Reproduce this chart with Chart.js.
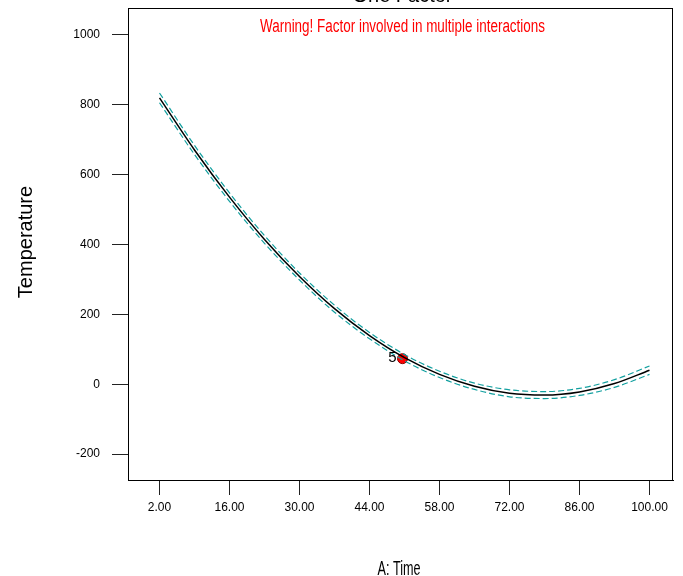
<!DOCTYPE html>
<html>
<head>
<meta charset="utf-8">
<script src="https://cdn.jsdelivr.net/npm/chart.js@4/dist/chart.umd.min.js"></script>
<style>
  html, body { margin: 0; padding: 0; background: #fff; }
  #wrap { width: 683px; height: 576px; }
</style>
</head>
<body>
<div id="wrap"><canvas id="c" width="683" height="576"></canvas></div>
<script>
// Factor A (Time) sample positions along the response curve
const timeValues = [2, 9, 16, 23, 30, 37, 44, 51, 58, 65, 72, 79, 86, 93, 100];
// Predicted Temperature
const predicted = [819, 670, 535, 414, 308, 216, 139, 76, 28, -6, -26, -31, -22, 2, 40];
// Confidence band limits
const upperCI = [833, 683, 547, 425, 318, 226, 148, 85, 37, 3, -16, -21, -12, 13, 52];
const lowerCI = [805, 657, 523, 403, 298, 206, 130, 67, 19, -15, -36, -41, -32, -9, 28];
// Design point (run label 5)
const designTime = [50.6];
const designTemp = [73];
const designLabels = ['5'];
// Axis ticks
const xTicks = [2, 16, 30, 44, 58, 72, 86, 100];
const yTicks = [-200, 0, 200, 400, 600, 800, 1000];

const FONT = "'Liberation Sans', Arial, sans-serif";

const toXY = (xs, ys) => xs.map((x, i) => ({ x: x, y: ys[i] }));

const decorations = {
  id: 'decorations',
  afterDraw(chart) {
    const ctx = chart.ctx;
    const a = chart.chartArea;
    ctx.save();
    // plot frame
    ctx.strokeStyle = '#000';
    ctx.lineWidth = 1;
    ctx.strokeRect(a.left + 0.5, a.top + 0.5, a.right - a.left - 1, a.bottom - a.top);

    const cx = (a.left + a.right) / 2;

    // chart title (partly above the canvas edge)
    ctx.fillStyle = '#000';
    ctx.font = '20px ' + FONT;
    ctx.textAlign = 'center';
    ctx.textBaseline = 'alphabetic';
    ctx.fillText('One Factor', cx + 2, 2);

    // warning line, horizontally condensed
    const warn = 'Warning! Factor involved in multiple interactions';
    ctx.font = '18px ' + FONT;
    ctx.fillStyle = '#ff0000';
    let w = ctx.measureText(warn).width;
    ctx.save();
    ctx.translate(cx + 2, 32);
    ctx.scale(285 / w, 1);
    ctx.fillText(warn, 0, 0);
    ctx.restore();

    // y axis title
    ctx.fillStyle = '#000';
    ctx.font = '20px ' + FONT;
    ctx.save();
    ctx.translate(32, 242);
    ctx.rotate(-Math.PI / 2);
    ctx.fillText('Temperature', 0, 0);
    ctx.restore();

    // x axis title, condensed
    const xt = 'A: Time';
    ctx.font = '20px ' + FONT;
    w = ctx.measureText(xt).width;
    ctx.save();
    ctx.translate(399, 575);
    ctx.scale(43 / w, 1);
    ctx.fillText(xt, 0, 0);
    ctx.restore();

    // design point labels
    const meta = chart.getDatasetMeta(3);
    ctx.font = '15px ' + FONT;
    ctx.textAlign = 'right';
    ctx.textBaseline = 'middle';
    meta.data.forEach((pt, i) => {
      ctx.fillText(designLabels[i], pt.x - 6, pt.y - 1);
    });
    ctx.restore();
  }
};

// keep tick labels from reserving extra space around the plot area
function noLabelPadding(scale) {
  scale.paddingTop = 0;
  scale.paddingBottom = 0;
  scale.paddingLeft = 0;
  scale.paddingRight = 0;
}

new Chart(document.getElementById('c'), {
  type: 'line',
  data: {
    datasets: [
      {
        label: 'Upper',
        data: toXY(timeValues, upperCI),
        borderColor: '#13a0a0',
        borderWidth: 1.2,
        borderDash: [6, 3],
        pointRadius: 0,
        cubicInterpolationMode: 'monotone',
        fill: false
      },
      {
        label: 'Lower',
        data: toXY(timeValues, lowerCI),
        borderColor: '#13a0a0',
        borderWidth: 1.2,
        borderDash: [6, 3],
        pointRadius: 0,
        cubicInterpolationMode: 'monotone',
        fill: false
      },
      {
        label: 'Predicted',
        data: toXY(timeValues, predicted),
        borderColor: '#000',
        borderWidth: 1.5,
        pointRadius: 0,
        cubicInterpolationMode: 'monotone',
        fill: false
      },
      {
        type: 'scatter',
        label: 'Design points',
        data: toXY(designTime, designTemp),
        backgroundColor: '#ff0000',
        borderColor: '#8a0000',
        borderWidth: 1,
        pointRadius: 5,
        showLine: false
      }
    ]
  },
  options: {
    responsive: false,
    animation: false,
    devicePixelRatio: 1,
    layout: { padding: { top: 8, right: 10, left: 0, bottom: 0 } },
    plugins: {
      legend: { display: false },
      tooltip: { enabled: false },
      title: { display: false }
    },
    scales: {
      x: {
        type: 'linear',
        min: -4.3,
        max: 104.7,
        afterFit(scale) { scale.height = 96; noLabelPadding(scale); },
        afterBuildTicks(scale) { scale.ticks = xTicks.map(v => ({ value: v })); },
        grid: {
          drawOnChartArea: false,
          drawTicks: true,
          tickLength: 15,
          color: '#222'
        },
        border: { display: true, color: '#000' },
        ticks: {
          color: '#000',
          padding: 5,
          maxRotation: 0,
          autoSkip: false,
          font: { family: FONT, size: 12 },
          callback: v => Number(v).toFixed(2)
        }
      },
      y: {
        type: 'linear',
        min: -274,
        max: 1076,
        afterFit(scale) { scale.width = 128; noLabelPadding(scale); },
        afterBuildTicks(scale) { scale.ticks = yTicks.map(v => ({ value: v })); },
        grid: {
          drawOnChartArea: false,
          drawTicks: true,
          tickLength: 16,
          color: '#222'
        },
        border: { display: true, color: '#000' },
        ticks: {
          color: '#000',
          padding: 12,
          autoSkip: false,
          font: { family: FONT, size: 12 },
          callback: v => String(v)
        }
      }
    }
  },
  plugins: [decorations]
});
</script>
</body>
</html>
